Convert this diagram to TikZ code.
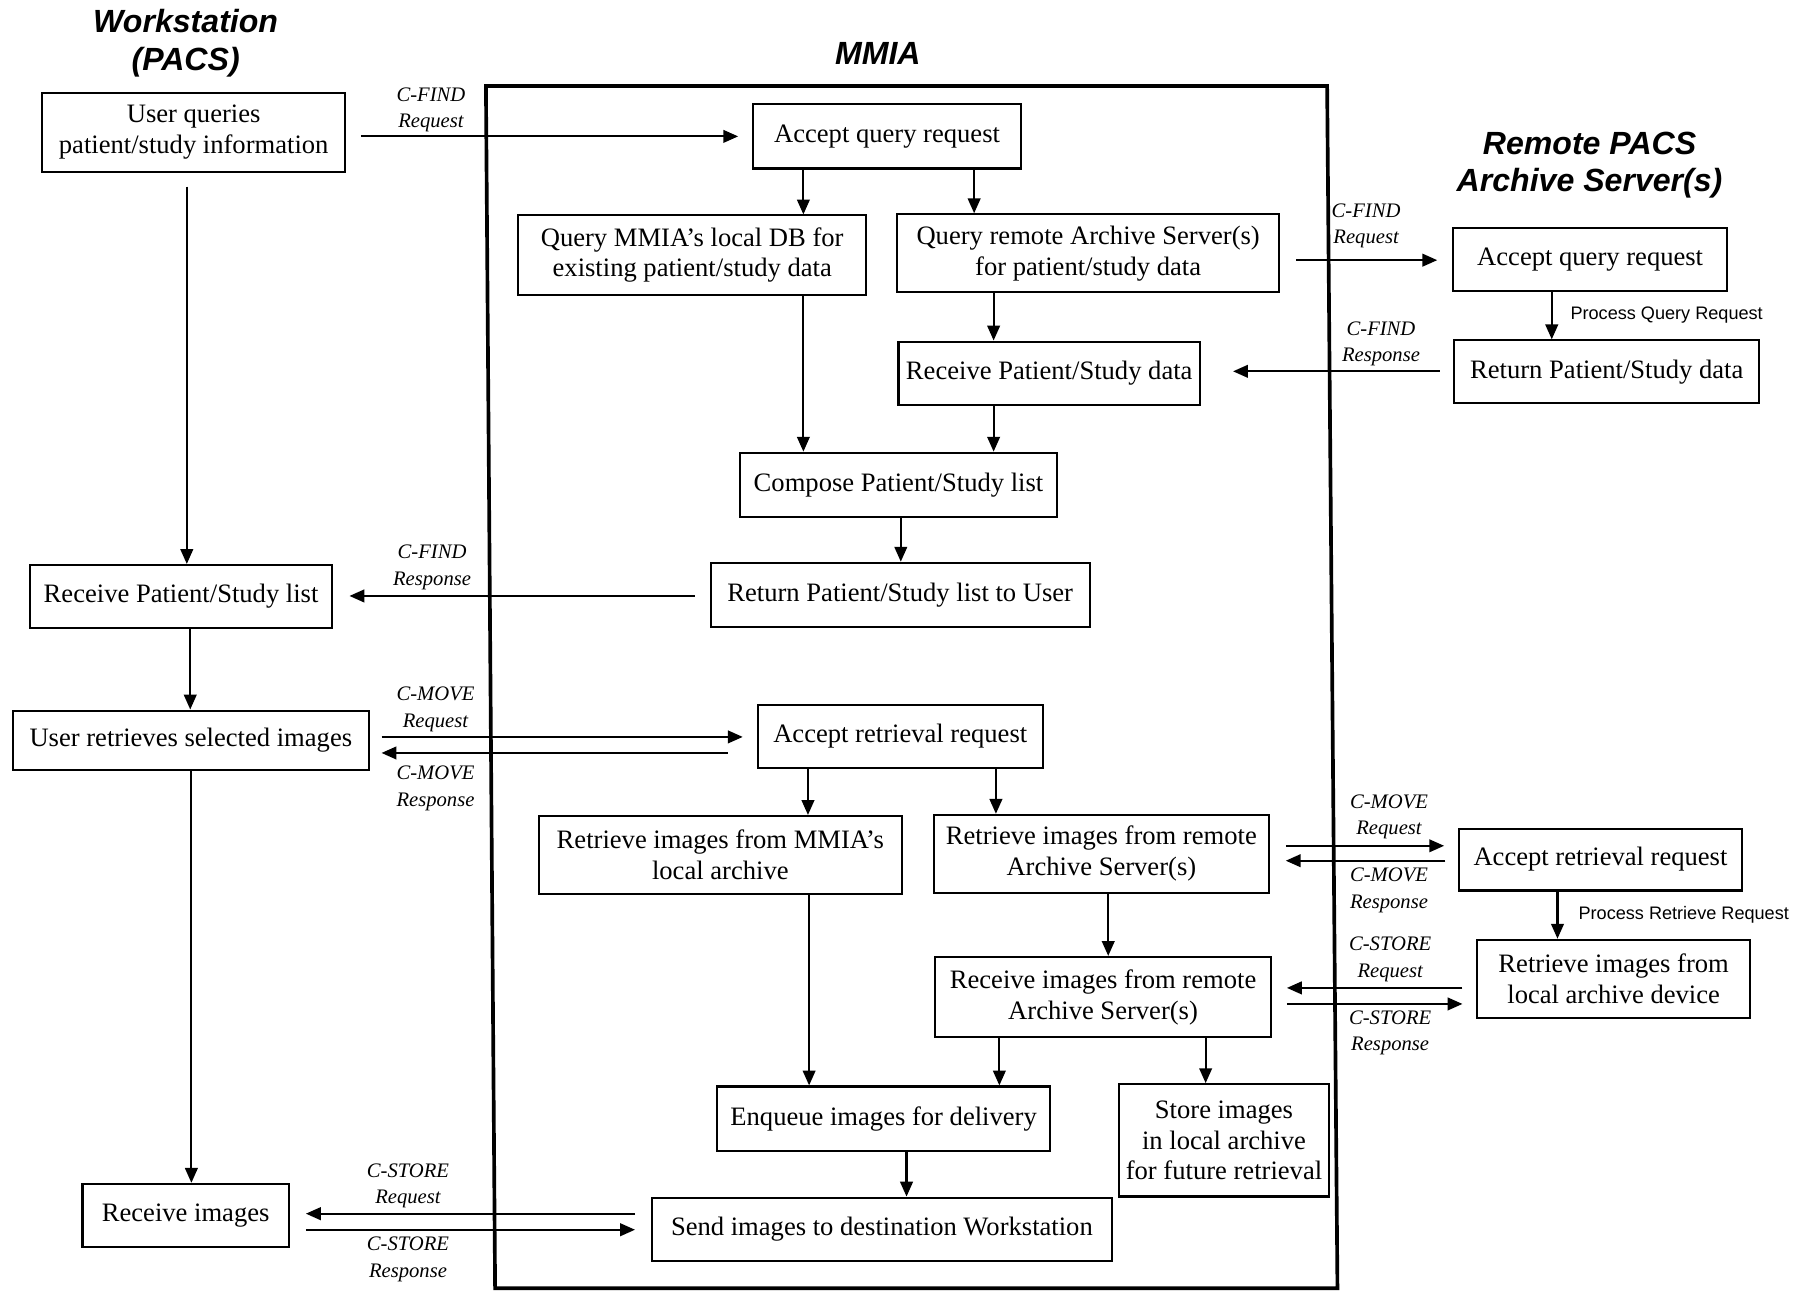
\documentclass[tikz,border=0pt]{standalone}
\usepackage{fontspec}
\setmainfont{Liberation Serif}
\newfontfamily\arialf{Liberation Sans}
\usetikzlibrary{arrows.meta}
\newcommand{\boxfont}{\fontsize{11.6}{13.5}\selectfont}
\newcommand{\labfont}{\itshape\fontsize{9}{11.5}\selectfont}
\newcommand{\headfont}{\arialf\bfseries\itshape\fontsize{14}{16.5}\selectfont}
\newcommand{\bx}[6]{\node[box, minimum width={(#4-#2)*0.5pt}, minimum height={(#5-#3)*0.5pt}] (#1) at ({(#2+#4)/2},{(#3+#5)/2}) {#6};}
\tikzset{
  box/.style={draw, line width=0.9pt, inner sep=1pt, align=center, font=\boxfont},
  arr/.style={-{Triangle[length=6.5pt,width=5.5pt]}, line width=0.95pt},
  lab/.style={font=\labfont, align=center, inner sep=0pt},
  proc/.style={font=\arialf\fontsize{7.9}{10}\selectfont, inner sep=0pt, anchor=west},
  head/.style={font=\headfont, align=center, inner sep=0pt},
  frame/.style={line width=1.6pt}
}
\begin{document}
\begin{tikzpicture}[x=0.5pt,y=-0.5pt]
\useasboundingbox (0,0) rectangle (1568,1126);
% headings
\node[head] (hws) at (162,38) {Workstation\\(PACS)};
\node[head] (hmm) at (766,47) {MMIA};
\node[head] (hrp) at (1387,144) {Remote PACS\\Archive Server(s)};
% MMIA frame
\draw[frame] (424,75) -- (1158,75) -- (1167,1124) -- (432,1124) -- cycle;
% left column
\bx{u1}{37}{81}{301}{150}{User queries\\patient/study information}
\bx{r1}{26}{493}{290}{548}{Receive Patient/Study list}
\bx{u3}{11}{620}{322}{672}{User retrieves selected images}
\bx{r4}{72}{1033}{252}{1088}{Receive images}
% MMIA boxes
\bx{a1}{657}{91}{891}{147}{Accept query request}
\bx{q1}{452}{188}{756}{257}{Query MMIA’s local DB for\\existing patient/study data}
\bx{q2}{783}{187}{1116}{255}{Query remote Archive Server(s)\\for patient/study data}
\bx{rd}{784}{298}{1047}{353}{Receive Patient/Study data}
\bx{cp}{646}{395}{922}{451}{Compose Patient/Study list}
\bx{rl}{620}{491}{951}{547}{Return Patient/Study list to User}
\bx{ar}{661}{615}{910}{670}{Accept retrieval request}
\bx{rm}{470}{712}{787}{780}{Retrieve images from MMIA’s\\local archive}
\bx{rr}{815}{711}{1107}{779}{Retrieve images from remote\\Archive Server(s)}
\bx{ri}{816}{835}{1109}{905}{Receive images from remote\\Archive Server(s)}
\bx{en}{626}{948}{916}{1004}{Enqueue images for delivery}
\bx{st}{976}{946}{1160}{1044}{Store images\\in local archive\\for future retrieval}
\bx{sd}{569}{1045}{970}{1100}{Send images to destination Workstation}
% right column
\bx{ra}{1268}{199}{1507}{254}{Accept query request}
\bx{rp}{1269}{297}{1535}{352}{Return Patient/Study data}
\bx{rar}{1273}{723}{1520}{777}{Accept retrieval request}
\bx{rla}{1289}{820}{1527}{888}{Retrieve images from\\local archive device}
% left vertical arrows
\draw[arr, shorten <=6pt] (u1.south -| 163,0) -- (r1.north -| 163,0);
\draw[arr] (r1.south -| 166,0) -- (u3.north -| 166,0);
\draw[arr] (u3.south -| 167,0) -- (r4.north -| 167,0);
% MMIA vertical arrows
\draw[arr] (a1.south -| 701,0) -- (q1.north -| 701,0);
\draw[arr] (a1.south -| 850,0) -- (q2.north -| 850,0);
\draw[arr] (q1.south -| 701,0) -- (cp.north -| 701,0);
\draw[arr] (q2.south -| 867,0) -- (rd.north -| 867,0);
\draw[arr] (rd.south -| 867,0) -- (cp.north -| 867,0);
\draw[arr] (cp.south -| 786,0) -- (rl.north -| 786,0);
\draw[arr] (ar.south -| 705,0) -- (rm.north -| 705,0);
\draw[arr] (ar.south -| 869,0) -- (rr.north -| 869,0);
\draw[arr] (rm.south -| 706,0) -- (en.north -| 706,0);
\draw[arr] (rr.south -| 967,0) -- (ri.north -| 967,0);
\draw[arr] (ri.south -| 872,0) -- (en.north -| 872,0);
\draw[arr] (ri.south -| 1052,0) -- (st.north -| 1052,0);
\draw[arr] (en.south -| 791,0) -- (sd.north -| 791,0);
% right vertical arrows
\draw[arr] (ra.south -| 1354,0) -- (rp.north -| 1354,0);
\draw[arr] (rar.south -| 1359,0) -- (rla.north -| 1359,0);
\node[proc] (pq) at (1370,275) {Process Query Request};
\node[proc] (pr) at (1377,798) {Process Retrieve Request};
% horizontal arrows, left side
\draw[arr, shorten <=6.5pt, shorten >=6pt] (u1.east |- 0,119) -- (a1.west |- 0,119);
\draw[arr, shorten <=6.5pt, shorten >=7pt] (rl.west |- 0,520) -- (r1.east |- 0,520);
\draw[arr, shorten <=5pt, shorten >=6pt] (u3.east |- 0,643) -- (ar.west |- 0,643);
\draw[arr, shorten <=12.5pt, shorten >=5pt] (ar.west |- 0,657) -- (u3.east |- 0,657);
\draw[arr, shorten <=7pt, shorten >=7pt] (sd.west |- 0,1059) -- (r4.east |- 0,1059);
\draw[arr, shorten <=7pt, shorten >=7pt] (r4.east |- 0,1073) -- (sd.west |- 0,1073);
% horizontal arrows, right side
\draw[arr, shorten <=7pt, shorten >=6.5pt] (q2.east |- 0,227) -- (ra.west |- 0,227);
\draw[arr, shorten <=6pt, shorten >=14pt] (rp.west |- 0,324) -- (rd.east |- 0,324);
\draw[arr, shorten <=7pt, shorten >=6pt] (rr.east |- 0,738) -- (rar.west |- 0,738);
\draw[arr, shorten <=5.5pt, shorten >=7pt] (rar.west |- 0,751) -- (rr.east |- 0,751);
\draw[arr, shorten <=6pt, shorten >=6.5pt] (rla.west |- 0,862) -- (ri.east |- 0,862);
\draw[arr, shorten <=6.5pt, shorten >=6pt] (ri.east |- 0,876) -- (rla.west |- 0,876);
% labels
\node[lab] (l1) at (376,96) {C-FIND\\Request};
\node[lab] (l2) at (377,495) {C-FIND\\Response};
\node[lab] (l3) at (380,619) {C-MOVE\\Request};
\node[lab] (l4) at (380,688) {C-MOVE\\Response};
\node[lab] (l5) at (356,1035) {C-STORE\\Request};
\node[lab] (l6) at (356,1099) {C-STORE\\Response};
\node[lab] (l7) at (1192,197) {C-FIND\\Request};
\node[lab] (l8) at (1205,300) {C-FIND\\Response};
\node[lab] (l9) at (1212,713) {C-MOVE\\Request};
\node[lab] (l10) at (1212,777) {C-MOVE\\Response};
\node[lab] (l11) at (1213,837) {C-STORE\\Request};
\node[lab] (l12) at (1213,901) {C-STORE\\Response};
\end{tikzpicture}
\end{document}
